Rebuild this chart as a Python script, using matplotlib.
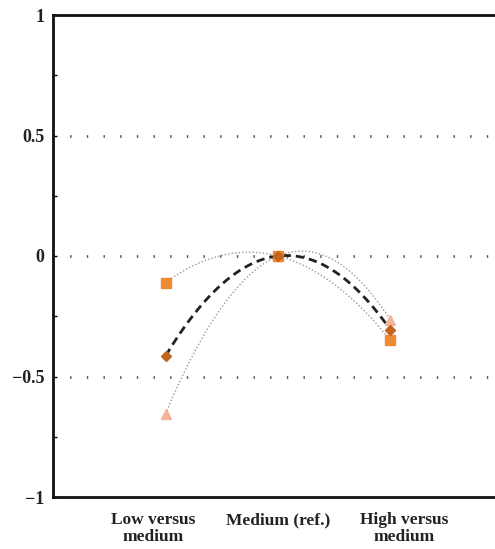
import numpy as np
import matplotlib.pyplot as plt

# effect estimates, x = 1 (low vs medium), 2 (medium, ref.), 3 (high vs medium)
groups = [1, 2, 3]
tick_labels = ['Low versus\nmedium', 'Medium (ref.)', 'High versus\nmedium']
sq_vals = [-0.11, 0.0, -0.35]
dia_vals = [-0.415, 0.0, -0.307]
tri_vals = [-0.655, 0.0, -0.266]

plt.rcParams['font.family'] = ['Liberation Serif', 'DejaVu Serif']

fig = plt.figure(figsize=(4.95, 5.49), dpi=100)
ax = fig.add_axes([53/495, 52/549, 450/495, 482/549])

def curve(vals):
    p = np.polyfit(groups, vals, 2)
    xs = np.linspace(groups[0], groups[-1], 200)
    return xs, np.polyval(p, xs)

for v in (-0.5, 0, 0.5):
    ax.axhline(v, color='#555555', lw=2.0, ls=(0, (0.5, 5.5)), zorder=1)

xs, ys = curve(sq_vals)
ax.plot(xs, ys, color='#9a9a9a', lw=1.0, ls=(0, (1, 1.5)), zorder=2)
xs, ys = curve(tri_vals)
ax.plot(xs, ys, color='#9a9a9a', lw=1.0, ls=(0, (1, 1.5)), zorder=2)
xs, ys = curve(dia_vals)
ax.plot(xs, ys, color='#222222', lw=2.0, ls=(0, (3, 1.8)), zorder=3)

ax.plot(groups, tri_vals, ls='none', marker='^', ms=7, color='#f5b49a', zorder=4)
ax.plot(groups, sq_vals, ls='none', marker='s', ms=7.5, color='#ec8a35', zorder=4)
ax.plot(groups, dia_vals, ls='none', marker='D', ms=5, color='#c2631e', zorder=5)

ax.set_xlim(0, 4)
ax.set_ylim(-1, 1)
ax.set_yticks([-1, -0.5, 0, 0.5, 1])
ax.set_yticklabels(['\u22121', '\u22120.5', '0', '0.5', '1'])
ax.set_yticks([-0.75, -0.25, 0.25, 0.75], minor=True)
ax.set_xticks([0.89, 2, 3.12])
ax.set_xticklabels(tick_labels, linespacing=1.05)
ax.tick_params(axis='x', length=0, pad=11, labelsize=12.5)
ax.tick_params(axis='y', which='major', direction='in', length=3, width=1, labelsize=13, pad=6)
ax.tick_params(axis='y', which='minor', direction='in', length=3, width=1)
for lab in ax.get_xticklabels() + ax.get_yticklabels():
    lab.set_fontweight('bold')
    lab.set_color('#222222')
for s in ax.spines.values():
    s.set_linewidth(2)
    s.set_color('#111111')

fig.savefig('out.png', dpi=100)
